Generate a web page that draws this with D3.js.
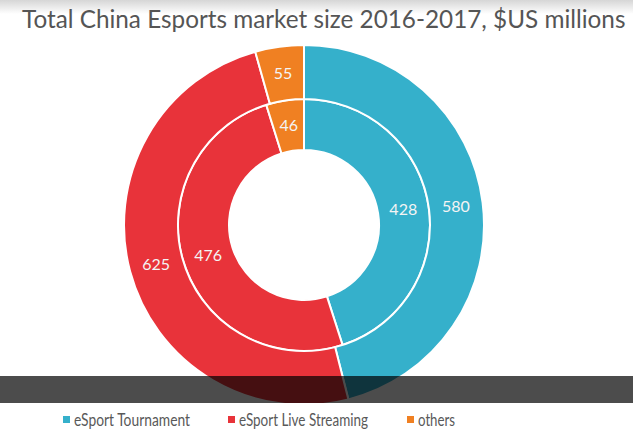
<!DOCTYPE html>
<html>
<head>
<meta charset="utf-8">
<title>China Esports market size</title>
<style>
  body { margin: 0; background: #fff; }
  svg { display: block; }
</style>
</head>
<body>
<svg id="chart" width="633" height="437"></svg>
<script src="https://d3js.org/d3.v7.min.js"></script>
<script>
// values
const categories = ["eSport Tournament", "eSport Live Streaming", "others"]
const values2017 = [580, 625, 55]   // outer ring
const values2016 = [428, 476, 46]   // inner ring
const colors = ["#35b0cb", "#e8333a", "#f08022"]
const title = "Total China Esports market size 2016-2017, $US millions"

const svg = d3.select("#chart")
const cx = 304, cy = 225
const font = "Lato, 'Open Sans', sans-serif"

let defs = svg.append("defs")
let grad = defs.append("linearGradient").attr("id", "topfade")
    .attr("x1", 0).attr("y1", 0).attr("x2", 0).attr("y2", 1)
grad.append("stop").attr("offset", "0%").attr("stop-color", "#d6d6d6")
grad.append("stop").attr("offset", "100%").attr("stop-color", "#fff")
defs.append("clipPath").attr("id", "cut")
    .append("rect").attr("x", 0).attr("y", 0).attr("width", 633).attr("height", 403)

svg.append("rect").attr("width", 633).attr("height", 14).attr("fill", "url(#topfade)")

// title, sized so it spans the same width as the reference
let titleText = svg.append("text")
    .attr("x", 22).attr("y", 28)
    .style("font-family", font)
    .style("font-size", "25px")
    .style("fill", "#555")
    .text(title)
let w = titleText.node().getComputedTextLength()
titleText.style("font-size", (25 * 604 / w) + "px")

const pie = d3.pie().sort(null).value(d => d)
const color = d3.scaleOrdinal().domain(categories).range(colors)

const rings = [
    { data: values2016, inner: 75, outer: 126 },
    { data: values2017, inner: 126, outer: 180 }
]

let body = svg.append("g")
    .attr("clip-path", "url(#cut)")
    .append("g")
    .attr("transform", `translate(${cx},${cy})`)

rings.forEach(ring => {
    let arc = d3.arc().innerRadius(ring.inner).outerRadius(ring.outer)
    let slices = pie(ring.data)
    body.append("g").selectAll("path")
        .data(slices)
        .join("path")
        .attr("d", arc)
        .attr("fill", (d, i) => color(categories[i]))
        .attr("stroke", "#fff")
        .attr("stroke-width", 2)
    body.append("g").selectAll("text")
        .data(slices)
        .join("text")
        .attr("transform", d => `translate(${arc.centroid(d)})`)
        .attr("text-anchor", "middle")
        .attr("dy", "0.35em")
        .style("font-family", font)
        .style("font-size", "16px")
        .style("fill", "#f4f4f4")
        .text(d => d.data)
})

// dark band across the lower part of the picture
svg.append("rect")
    .attr("x", 0).attr("y", 376).attr("width", 633).attr("height", 27)
    .attr("fill", "#000").attr("opacity", 0.7)

// legend
const legendX = d3.scaleOrdinal().domain(categories).range([63, 228, 407])
const legendW = d3.scaleOrdinal().domain(categories).range([116, 129, 37])
let legend = svg.append("g").selectAll("g")
    .data(categories)
    .join("g")
    .attr("transform", d => `translate(${legendX(d)},416)`)
legend.append("rect")
    .attr("width", 7).attr("height", 7)
    .attr("fill", d => color(d))
legend.append("text")
    .attr("x", 11).attr("y", 10)
    .attr("textLength", d => legendW(d))
    .attr("lengthAdjust", "spacingAndGlyphs")
    .style("font-family", font)
    .style("font-size", "17px")
    .style("fill", "#595959")
    .text(d => d)
</script>
</body>
</html>
